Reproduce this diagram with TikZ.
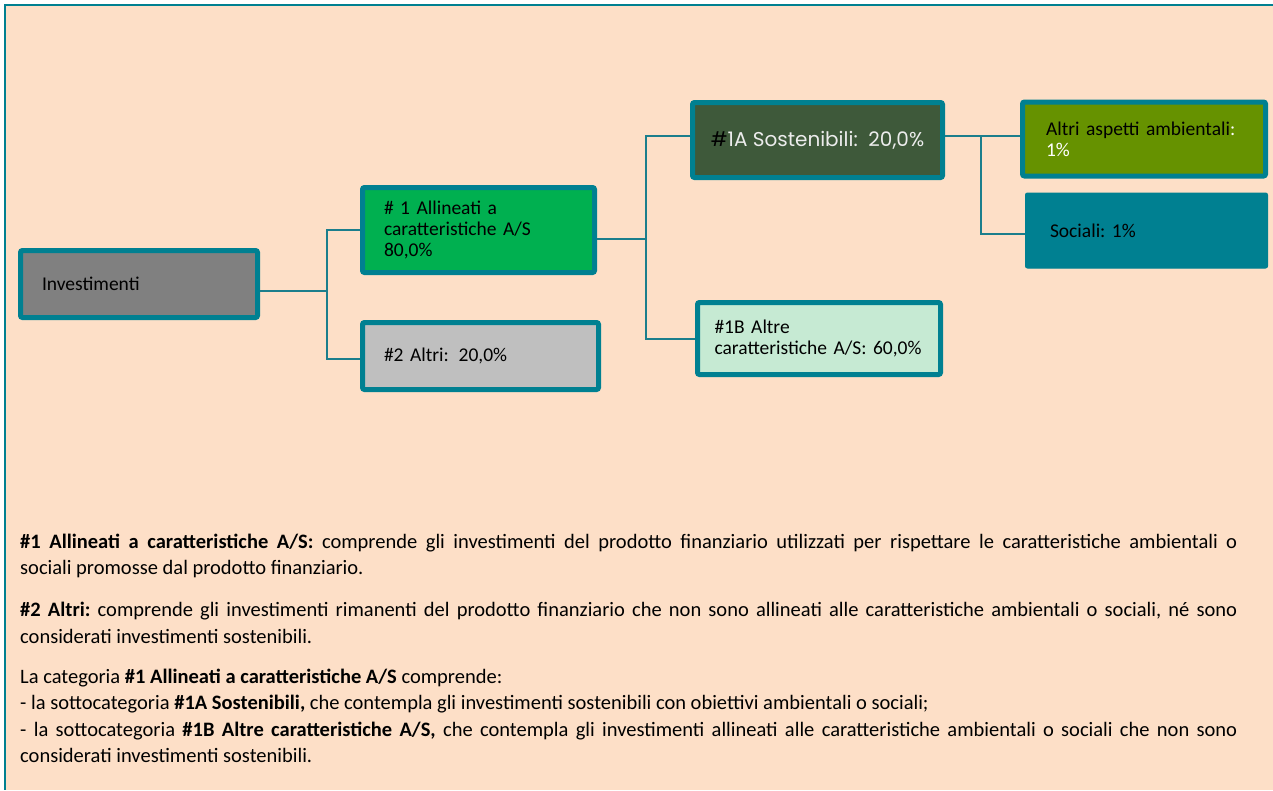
\documentclass[tikz,border=0pt]{standalone}
\usepackage{fontspec}
\setmainfont{Carlito}
\newfontfamily\gothicfont{Poppins}
\frenchspacing
\usetikzlibrary{positioning,calc}
\definecolor{PeachBand}{RGB}{253,223,199}
\definecolor{FrameTeal}{RGB}{0,128,145}
\definecolor{LinkTeal}{RGB}{27,126,140}
\definecolor{InvGray}{RGB}{128,128,128}
\definecolor{AlignGreen}{RGB}{0,176,80}
\definecolor{OtherGray}{RGB}{191,191,191}
\definecolor{SustGreen}{RGB}{62,89,58}
\definecolor{MintBand}{RGB}{198,234,211}
\definecolor{OliveGreen}{RGB}{102,146,0}
\definecolor{SoftWhite}{RGB}{236,236,236}
\tikzset{
  link/.style={draw=LinkTeal,line width=2pt},
  frame/.style={draw=FrameTeal,line width=2pt},
  box/.style={draw=FrameTeal,line width=5pt,rounded corners=2pt,
    align=left,inner ysep=0pt,font=\fontsize{19.5}{21}\selectfont},
  flatbox/.style={draw=FrameTeal,fill=FrameTeal,line width=1pt,rounded corners=2pt,
    align=left,inner ysep=0pt,font=\fontsize{19.5}{21}\selectfont},
  notes/.style={align=justify,inner sep=0pt,text width=1217pt,
    font=\fontsize{20.5}{26.5}\selectfont}
}

\begin{document}
\begin{tikzpicture}[x=1pt,y=-1pt]
  \useasboundingbox (0,0) rectangle (1273,790);
  \fill[PeachBand] (5,5) rectangle (1273,790);
  \draw[frame] (1273,5) -- (5,5) -- (5,790);

  % tree
  \node[box,fill=InvGray,minimum width=237pt,minimum height=67pt,
    inner xsep=21.5pt,text width=194pt] (invest) at (139,284) {Investimenti};
  \node[box,fill=AlignGreen,minimum width=232pt,minimum height=85pt,
    inner xsep=21.5pt,text width=189pt] (allineati) at (478.5,230)
    {\# 1 Allineati a\\caratteristiche A/S\\80,0\%};
  \node[box,fill=OtherGray,minimum width=236pt,minimum height=67pt,
    inner xsep=21.5pt,text width=193pt] (altri) at (480.5,356)
    {\#2 Altri: \,20,0\%};
  \node[box,fill=SustGreen,minimum width=250pt,minimum height=75pt,align=center,
    font=\gothicfont\fontsize{20}{22}\selectfont] (sostenibili) at (817.5,140)
    {\#\textcolor{SoftWhite}{1A Sostenibili:~ 20,0\%}};
  \node[box,fill=MintBand,minimum width=243pt,minimum height=72pt,
    inner xsep=17pt,text width=209pt] (altreAS) at (819,338.5)
    {\#1B Altre\\caratteristiche A/S: 60,0\%};
  \node[box,fill=OliveGreen,minimum width=243pt,minimum height=74pt,
    inner xsep=23.5pt,text width=196pt] (ambientali) at (1144,139)
    {Altri aspetti ambientali\textcolor{white}{:}\\\textcolor{white}{1\%}};
  \node[flatbox,minimum width=242pt,minimum height=75pt,
    inner xsep=24.5pt,text width=193pt] (sociali) at (1146.5,230.5)
    {Sociali: 1\%};

  \draw[link] ([yshift=-7pt]invest.east) -- ++(67,0) coordinate (j1);
  \draw[link] (allineati.west) -| (j1) |- ([yshift=-3pt]altri.west);
  \draw[link] ([yshift=-9pt]allineati.east) -- ++(49,0) coordinate (j2);
  \draw[link] ([yshift=4pt]sostenibili.west) -| (j2) |- (altreAS.west);
  \draw[link] ([yshift=4pt]sostenibili.east) -- ([yshift=4pt]sostenibili.east -| ambientali.west)
    coordinate[pos=0.48] (j3);
  \draw[link] (j3) |- ([yshift=-3pt]sociali.west);

  % legend
  \node[notes,anchor=base west] (legend) at (20,548) {%
    \textbf{\#1 Allineati a caratteristiche A/S:} comprende gli investimenti del prodotto finanziario utilizzati per rispettare le caratteristiche ambientali o\linebreak
    sociali promosse dal prodotto finanziario.\par\vspace{15.5pt}
    \textbf{\#2 Altri:} comprende gli investimenti rimanenti del prodotto finanziario che non sono allineati alle caratteristiche ambientali o sociali, né sono\linebreak
    considerati investimenti sostenibili.\par\vspace{13.5pt}
    La categoria \textbf{\#1 Allineati a caratteristiche A/S} comprende:\\
    - la sottocategoria \textbf{\#1A Sostenibili,} che contempla gli investimenti sostenibili con obiettivi ambientali o sociali;\\
    - la sottocategoria \textbf{\#1B Altre caratteristiche A/S,} che contempla gli investimenti allineati alle caratteristiche ambientali o sociali che non sono\linebreak
    considerati investimenti sostenibili.};
\end{tikzpicture}
\end{document}
